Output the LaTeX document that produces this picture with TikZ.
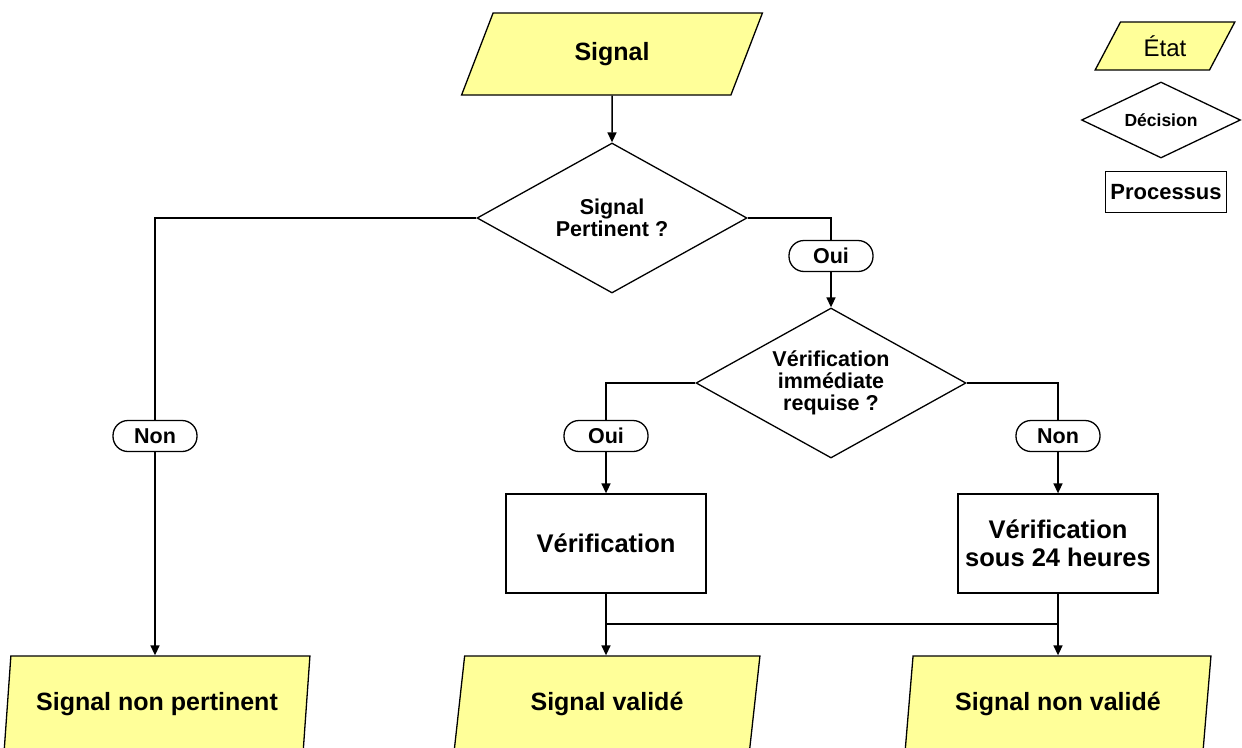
\documentclass[tikz,border=0pt]{standalone}
\usepackage{fontspec}
\setmainfont{Liberation Sans}
\usepackage{tikz}
\usetikzlibrary{arrows.meta}
\usetikzlibrary{shapes.geometric}

\definecolor{jaune}{RGB}{255,255,153}

\tikzset{
  etat/.style={trapezium, trapezium stretches=true, draw, fill=jaune,
    line width=1.3pt, inner sep=0pt, font=\bfseries\fontsize{25}{27}\selectfont},
  etatbas/.style={etat, trapezium left angle=76.5, trapezium right angle=103.5,
    minimum width=306pt, minimum height=96pt},
  decision/.style={diamond, draw, fill=white, line width=1.3pt, aspect=1.8,
    inner sep=1pt, align=center, minimum width=270pt, minimum height=150pt,
    font=\bfseries\fontsize{21.5}{22}\selectfont},
  processus/.style={rectangle, draw, fill=white, line width=1.3pt, align=center,
    minimum width=200pt, minimum height=99pt,
    font=\bfseries\fontsize{25.5}{28}\selectfont},
  reponse/.style={rectangle, rounded corners=15pt, draw, fill=white,
    line width=1.3pt, minimum width=84pt, minimum height=31pt, inner sep=0pt,
    font=\bfseries\fontsize{21.5}{22}\selectfont},
  fleche/.style={-{Triangle[length=10pt,width=9pt]}}
}

\begin{document}
\begin{tikzpicture}[x=1pt, y=-1pt, line width=1.5pt]

\clip (0,0) rectangle (1242,747);

% Etats
\node[etat, trapezium left angle=67, trapezium right angle=113,
  minimum width=302pt, minimum height=82pt] (sig) at (612,54) {Signal};
\node[etatbas] (snp) at (157,704) {Signal non pertinent};
\node[etatbas] (sv) at (607,704) {Signal validé};
\node[etatbas] (snv) at (1058,704) {Signal non validé};

% Decisions
\node[decision] (d1) at (612,218) {Signal\\Pertinent ?};
\node[decision] (d2) at (831,383) {Vérification\\immédiate\\requise ?};

% Processus
\node[processus] (p1) at (606,543.5) {Vérification};
\node[processus] (p2) at (1058,543.5) {Vérification\\sous 24 heures};

% Reponses
\node[reponse] (r1) at (155,436) {Non};
\node[reponse] (r2) at (831,256) {Oui};
\node[reponse] (r3) at (606,436) {Oui};
\node[reponse] (r4) at (1058,436) {Non};

% Liaisons
\draw[fleche] (sig) -- (d1);
\draw (d1.west) -| (r1.north);
\draw[fleche] (r1.south) -- (r1.south |- snp.north);
\draw (d1.east) -| (r2.north);
\draw[fleche] (r2) -- (d2);
\draw (d2.west) -| (r3.north);
\draw[fleche] (r3) -- (p1);
\draw (d2.east) -| (r4.north);
\draw[fleche] (r4) -- (p2);
\draw[fleche] (p1.south) -- (p1.south |- sv.north);
\draw[fleche] (p2.south) -- (p2.south |- snv.north);
\coordinate (j1) at (606,624);
\coordinate (j2) at (1058,624);
\draw (j1) -- (j2);

% Legende
\node[etat, trapezium left angle=60, trapezium right angle=120,
  minimum width=140pt, minimum height=48pt,
  font=\fontsize{24}{26}\selectfont] (le) at (1165,46) {État};
\node[decision, aspect=2.1, minimum width=159pt, minimum height=76pt,
  font=\bfseries\fontsize{17.5}{19}\selectfont] (ld) at (1161,120) {Décision};
\node[processus, minimum width=121pt, minimum height=41pt,
  font=\bfseries\fontsize{22}{24}\selectfont] (lp) at (1166,192) {Processus};

\end{tikzpicture}
\end{document}
